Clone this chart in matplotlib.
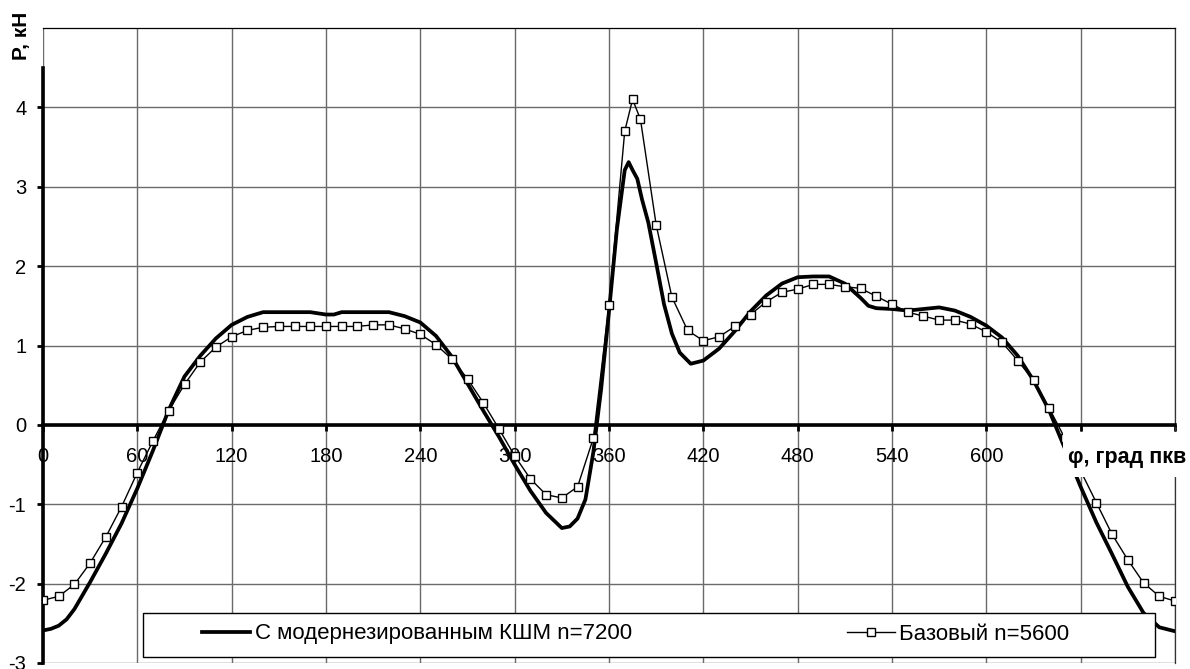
import numpy as np
import matplotlib.pyplot as plt
from matplotlib.patches import Rectangle

plt.rcParams['font.family'] = ['Liberation Sans', 'DejaVu Sans']
plt.rcParams['axes.unicode_minus'] = False

# Силы в КШМ по углу поворота коленвала
phi_mod = [0, 5, 10, 15, 20, 25, 30, 40, 50, 60, 70, 80, 90, 100, 110, 120, 130, 140,
           150, 160, 170, 180, 185, 190, 200, 210, 220, 230, 240, 250, 260, 270, 280,
           290, 300, 310, 320, 330, 335, 340, 345, 350, 355, 360, 365, 370, 372.5, 375,
           378, 381, 385, 390, 395, 400, 405, 412, 420, 430, 440, 450, 460, 470, 480,
           490, 500, 510, 520, 525, 530, 540, 550, 560, 570, 580, 590, 600, 610, 620,
           630, 640, 650, 660, 670, 680, 690, 700, 710, 720]
p_mod = [-2.59, -2.57, -2.53, -2.45, -2.32, -2.15, -1.98, -1.62, -1.24, -0.80, -0.32,
         0.19, 0.61, 0.87, 1.09, 1.26, 1.36, 1.42, 1.42, 1.42, 1.42, 1.39, 1.39, 1.42,
         1.42, 1.42, 1.42, 1.37, 1.29, 1.12, 0.86, 0.52, 0.18, -0.15, -0.50, -0.83,
         -1.11, -1.30, -1.28, -1.18, -0.94, -0.35, 0.45, 1.43, 2.46, 3.21, 3.31, 3.21,
         3.10, 2.84, 2.55, 2.04, 1.52, 1.15, 0.91, 0.77, 0.81, 0.96, 1.18, 1.43, 1.63,
         1.78, 1.86, 1.87, 1.87, 1.78, 1.60, 1.50, 1.47, 1.46, 1.44, 1.46, 1.48, 1.44,
         1.36, 1.25, 1.10, 0.87, 0.56, 0.18, -0.30, -0.78, -1.23, -1.63, -2.04, -2.37,
         -2.55, -2.60]

phi_base = list(range(0, 361, 10)) + [370, 375, 380] + list(range(390, 721, 10))
p_base = [-2.21, -2.16, -2.01, -1.74, -1.41, -1.03, -0.60, -0.20, 0.18, 0.51, 0.79,
          0.98, 1.11, 1.19, 1.23, 1.24, 1.24, 1.24, 1.24, 1.24, 1.24, 1.26, 1.26, 1.21,
          1.14, 1.01, 0.83, 0.58, 0.28, -0.05, -0.39, -0.68, -0.88, -0.92, -0.78, -0.17,
          1.51, 3.70, 4.10, 3.85, 2.52, 1.61, 1.19, 1.06, 1.11, 1.24, 1.39, 1.55, 1.67,
          1.71, 1.77, 1.77, 1.74, 1.72, 1.62, 1.52, 1.42, 1.37, 1.32, 1.32, 1.27, 1.17,
          1.04, 0.81, 0.56, 0.21, -0.17, -0.58, -0.98, -1.38, -1.70, -1.99, -2.16, -2.22]

x_ticks = list(range(0, 721, 60))
x_labels = [str(v) for v in x_ticks[:-2]] + ['', '']
y_ticks = list(range(-3, 5))

label_mod = 'С модернезированным КШМ n=7200'
label_base = 'Базовый n=5600'

fig = plt.figure(figsize=(11.9, 6.69), dpi=100)
ax = fig.add_axes([43 / 1190, 6 / 669, 1132 / 1190, 635 / 669])

ln_mod, = ax.plot(phi_mod, p_mod, color='black', lw=2.7, zorder=3,
                  solid_joinstyle='round', label=label_mod)
ln_base, = ax.plot(phi_base, p_base, color='black', lw=1.0, marker='s', markersize=6,
                   markerfacecolor='white', markeredgecolor='black', markeredgewidth=1.0,
                   zorder=4, label=label_base)

ax.set_xlim(0, 720)
ax.set_ylim(-3, 5)
ax.set_xticks(x_ticks)
ax.set_xticklabels(x_labels)
ax.set_yticks(y_ticks)
ax.set_axisbelow(True)
ax.grid(True, color='#6a6a6a', lw=1.0)

# оси через ноль
ax.spines['bottom'].set_position(('data', 0))
ax.spines['bottom'].set_linewidth(2.6)
ax.spines['left'].set_position(('data', 0))
ax.spines['left'].set_linewidth(2.6)
ax.spines['left'].set_bounds(-3, 4.5)
ax.spines['top'].set_linewidth(0.9)
ax.spines['right'].set_linewidth(0.9)
ax.spines['right'].set_color('#333333')

ax.tick_params(axis='x', direction='out', length=4, width=2, pad=12, labelsize=14.5)
ax.tick_params(axis='y', direction='out', length=4, width=2, pad=8, labelsize=14.5)

# рамка легенды
ax.add_patch(Rectangle((143 / 1190, 1 - 657 / 669), 1012 / 1190, 44.5 / 669,
                       transform=fig.transFigure, facecolor='white', edgecolor='black',
                       lw=1.0, zorder=8))
leg = ax.legend(handles=[ln_mod, ln_base], loc='center',
                bbox_to_anchor=(636 / 1190, 1 - 634 / 669), bbox_transform=fig.transFigure,
                ncol=2, frameon=False, fontsize=16, handlelength=2.16, handletextpad=0.2,
                columnspacing=9.67, borderpad=0, numpoints=1)
leg.set_zorder(9)

# подпись оси X на белой подложке
ax.add_patch(Rectangle((1063 / 1190, 1 - 477 / 669), 127 / 1190, 45 / 669,
                       transform=fig.transFigure, facecolor='white', edgecolor='none',
                       zorder=8, clip_on=False))
fig.text(1127 / 1190, 1 - 457 / 669, 'φ, град пкв', fontsize=15.5, fontweight='bold',
         ha='center', va='center')
fig.text(22 / 1190, 1 - 36 / 669, 'P, кН', fontsize=15, fontweight='bold',
         rotation=90, ha='center', va='center')

plt.savefig('out.png', dpi=100)
